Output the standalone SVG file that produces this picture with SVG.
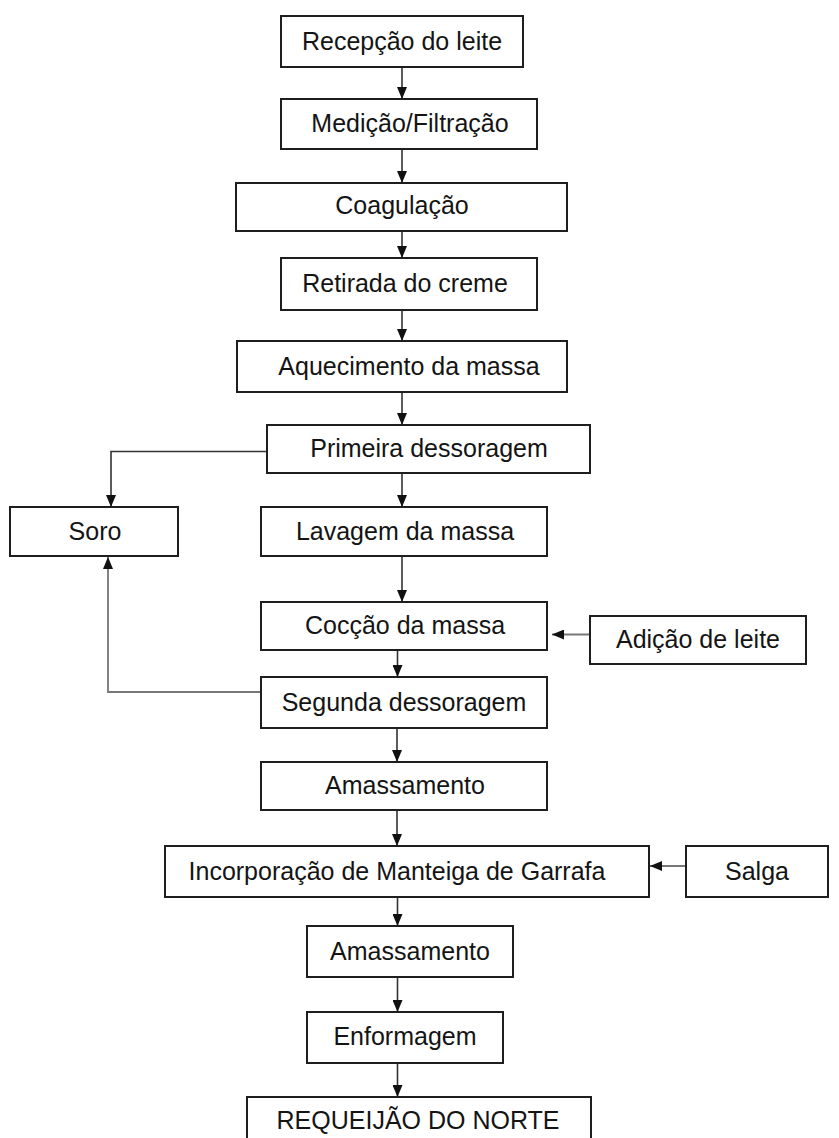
<svg xmlns="http://www.w3.org/2000/svg" width="839" height="1138" viewBox="0 0 839 1138">
<defs>
<style>
.box{fill:#fff;stroke:#1e1e1e;stroke-width:2}
.lbl{font-family:"Liberation Sans",Arial,sans-serif;font-size:25px;fill:#141414;text-anchor:middle}
.con{fill:none;stroke:#333;stroke-width:1.6}
.gray{fill:none;stroke:#777;stroke-width:1.8}
</style>
<marker id="ah" viewBox="0 0 12 10" refX="12" refY="5" markerWidth="12" markerHeight="10" markerUnits="userSpaceOnUse" orient="auto">
<path d="M0,0 L12,5 L0,10 z" fill="#111"/>
</marker>
</defs>
<rect width="839" height="1138" fill="#fff"/>
<g id="connectors">
<line class="con" x1="402" y1="67" x2="402" y2="99" marker-end="url(#ah)"/>
<line class="con" x1="402" y1="149" x2="402" y2="183" marker-end="url(#ah)"/>
<line class="con" x1="402" y1="231" x2="402" y2="258" marker-end="url(#ah)"/>
<line class="con" x1="402" y1="310" x2="402" y2="341" marker-end="url(#ah)"/>
<line class="con" x1="402" y1="392" x2="402" y2="425" marker-end="url(#ah)"/>
<line class="con" x1="402" y1="473" x2="402" y2="507" marker-end="url(#ah)"/>
<line class="con" x1="402" y1="556" x2="402" y2="602" marker-end="url(#ah)"/>
<line class="con" x1="397.5" y1="650" x2="397.5" y2="677" marker-end="url(#ah)"/>
<line class="con" x1="397" y1="728" x2="397" y2="762" marker-end="url(#ah)"/>
<line class="con" x1="397" y1="810" x2="397" y2="846" marker-end="url(#ah)"/>
<line class="con" x1="397.5" y1="897" x2="397.5" y2="926" marker-end="url(#ah)"/>
<line class="con" x1="397.5" y1="977" x2="397.5" y2="1012" marker-end="url(#ah)"/>
<line class="con" x1="397.5" y1="1063" x2="397.5" y2="1097" marker-end="url(#ah)"/>
<path class="con" d="M266,451.5 H111 V507" marker-end="url(#ah)"/>
<path class="gray" d="M261,692 H108 V557" marker-end="url(#ah)"/>
<line class="gray" x1="590" y1="634.5" x2="552" y2="634.5" marker-end="url(#ah)"/>
<line class="gray" x1="686" y1="866" x2="650" y2="866" marker-end="url(#ah)"/>
</g>
<g id="n1"><rect class="box" x="281" y="16" width="242" height="51"/><text class="lbl" x="402" y="50">Recepção do leite</text></g>
<g id="n2"><rect class="box" x="281" y="99" width="256" height="50"/><text class="lbl" x="410" y="132">Medição/Filtração</text></g>
<g id="n3"><rect class="box" x="236" y="183" width="331" height="48"/><text class="lbl" x="402" y="214">Coagulação</text></g>
<g id="n4"><rect class="box" x="281" y="258" width="256" height="52"/><text class="lbl" x="405" y="292">Retirada do creme</text></g>
<g id="n5"><rect class="box" x="237" y="341" width="330" height="51"/><text class="lbl" x="409" y="375">Aquecimento da massa</text></g>
<g id="n6"><rect class="box" x="267" y="425" width="323" height="48"/><text class="lbl" x="429" y="457">Primeira dessoragem</text></g>
<g id="n7"><rect class="box" x="261" y="507" width="286" height="49"/><text class="lbl" x="405" y="540">Lavagem da massa</text></g>
<g id="n8"><rect class="box" x="261" y="602" width="286" height="48"/><text class="lbl" x="405" y="634">Cocção da massa</text></g>
<g id="n9"><rect class="box" x="261" y="677" width="286" height="51"/><text class="lbl" x="404" y="711">Segunda dessoragem</text></g>
<g id="n10"><rect class="box" x="261" y="762" width="286" height="48"/><text class="lbl" x="405" y="794">Amassamento</text></g>
<g id="n11"><rect class="box" x="165" y="846" width="484" height="51"/><text class="lbl" x="397" y="880">Incorporação de Manteiga de Garrafa</text></g>
<g id="n12"><rect class="box" x="307" y="926" width="206" height="51"/><text class="lbl" x="410" y="960">Amassamento</text></g>
<g id="n13"><rect class="box" x="307" y="1012" width="196" height="51"/><text class="lbl" x="405" y="1045">Enformagem</text></g>
<g id="n14"><rect class="box" x="247" y="1097" width="344" height="60"/><text class="lbl" x="418" y="1129">REQUEIJÃO DO NORTE</text></g>
<g id="n15"><rect class="box" x="10" y="507" width="168" height="49"/><text class="lbl" x="95" y="540">Soro</text></g>
<g id="n16"><rect class="box" x="590" y="616" width="216" height="48"/><text class="lbl" x="698" y="648">Adição de leite</text></g>
<g id="n17"><rect class="box" x="686" y="846" width="142" height="51"/><text class="lbl" x="757" y="880">Salga</text></g>
</svg>
